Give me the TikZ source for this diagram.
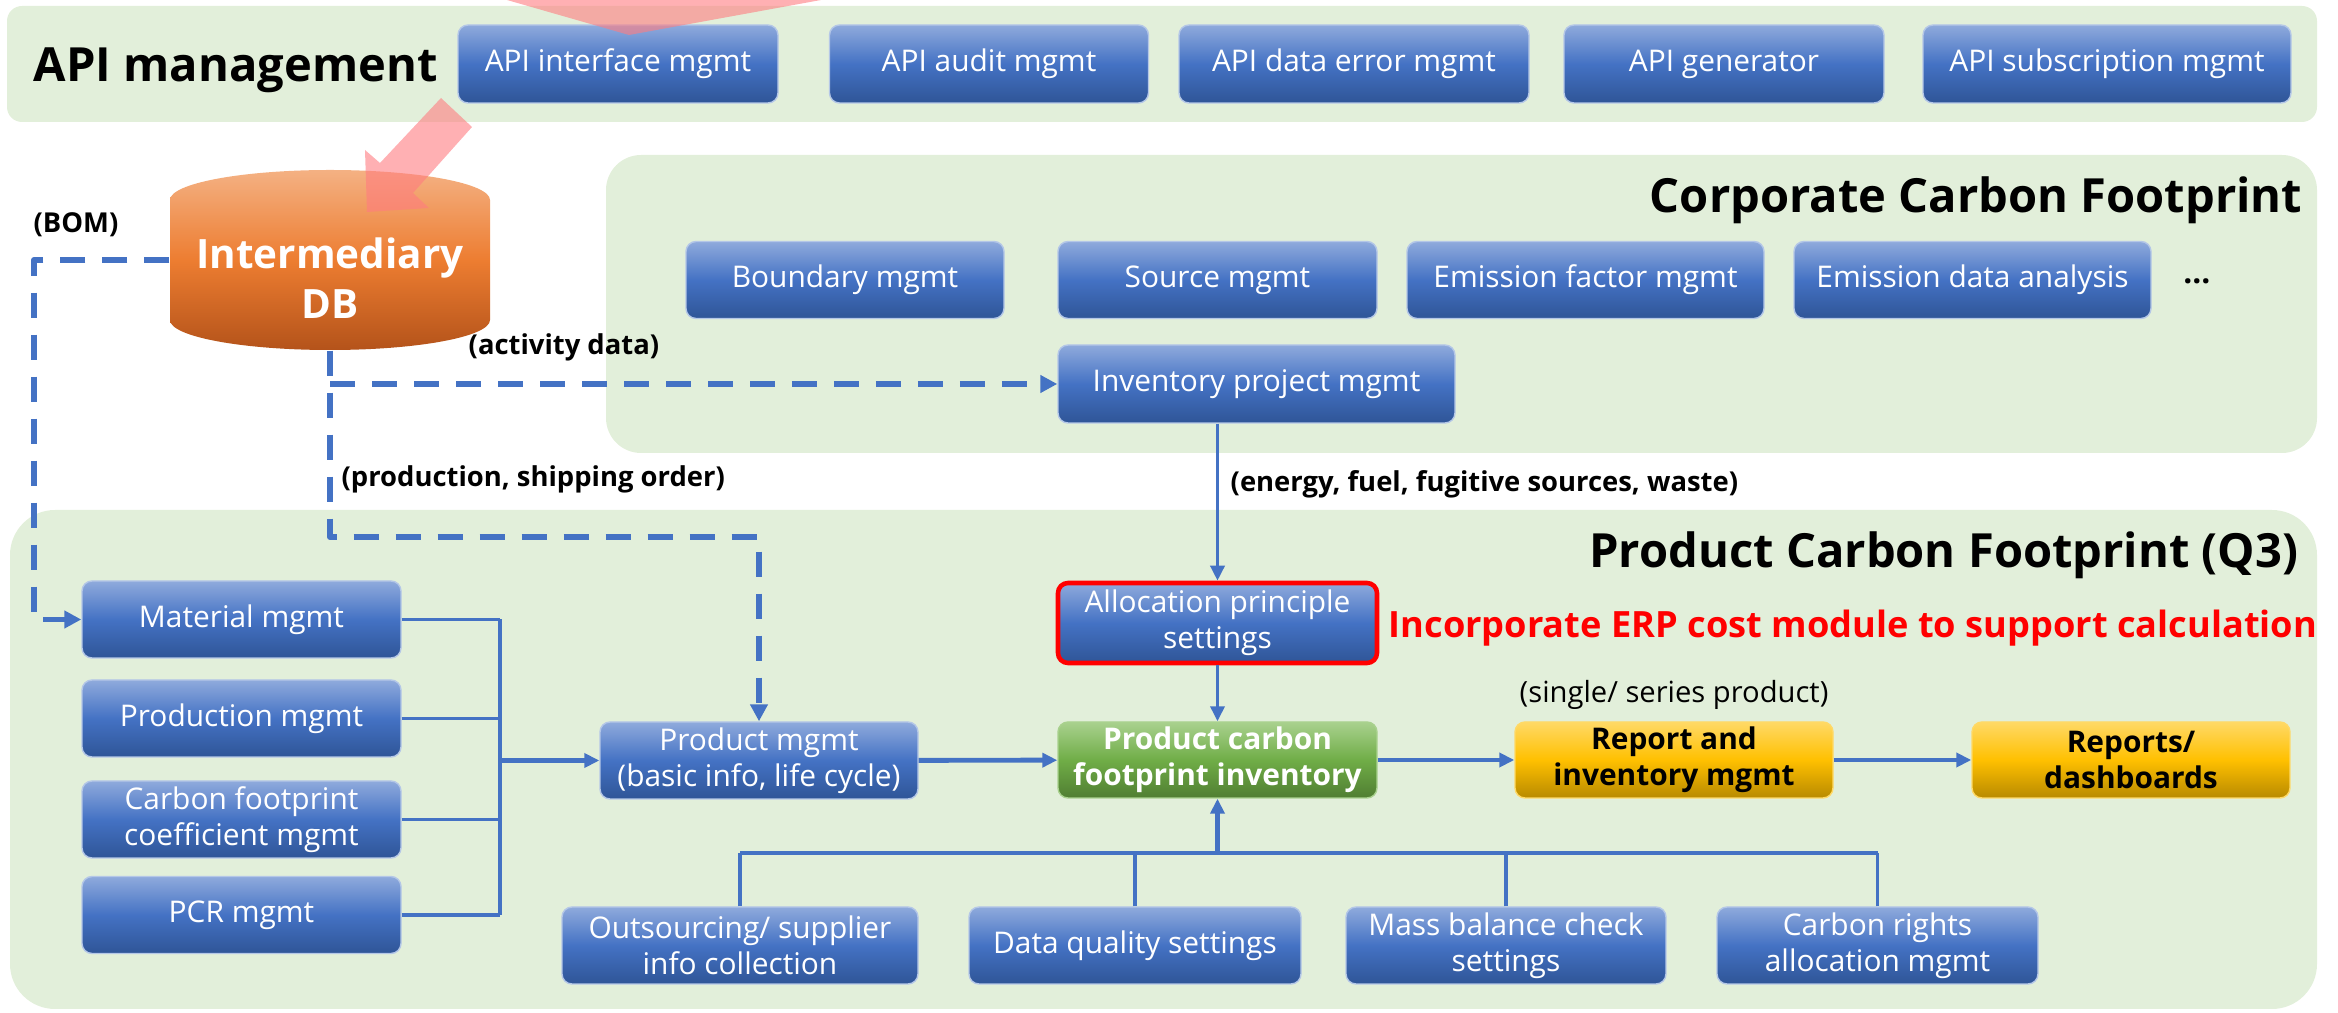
\documentclass[tikz,border=0pt]{standalone}
\usepackage{fontspec}
\setmainfont{Open Sans}
\usetikzlibrary{arrows.meta}

\definecolor{bandgreen}{HTML}{E2EFDA}
\definecolor{lineblue}{HTML}{4472C4}
\definecolor{boxtop}{HTML}{8FAADC}
\definecolor{boxmid}{HTML}{4472C4}
\definecolor{boxbot}{HTML}{2F5597}
\definecolor{boxedge}{HTML}{B4C7E7}
\definecolor{greentop}{HTML}{A9D18E}
\definecolor{greenmid}{HTML}{70AD47}
\definecolor{greenbot}{HTML}{507E32}
\definecolor{yellowtop}{HTML}{FFD966}
\definecolor{yellowmid}{HTML}{FFC000}
\definecolor{yellowbot}{HTML}{B88A00}
\definecolor{dbtop}{HTML}{F4B183}
\definecolor{dbmid}{HTML}{ED7D31}
\definecolor{dbbot}{HTML}{B4531A}
\definecolor{arrowpink}{HTML}{FF7C80}

\tikzset{
  band/.style={fill=bandgreen},
  blk/.style={rounded corners=1mm, top color=boxtop, bottom color=boxbot, middle color=boxmid,
    draw=boxedge, line width=0.4pt, text=white, align=center, inner sep=1pt,
    font=\fontsize{8.5}{10.2}\selectfont, minimum height=7.7mm},
  greenblk/.style={blk, top color=greentop, bottom color=greenbot, middle color=greenmid,
    draw=greentop, font=\fontsize{8.5}{10.2}\selectfont\bfseries},
  yellowblk/.style={blk, top color=yellowtop, bottom color=yellowbot, middle color=yellowmid,
    draw=yellowtop, text=black, font=\fontsize{8.5}{10.2}\selectfont\bfseries},
  title/.style={font=\fontsize{13.4}{16}\selectfont\bfseries, inner sep=0pt},
  lbl/.style={font=\fontsize{7.8}{9}\selectfont\bfseries, inner sep=0pt},
  conn/.style={draw=lineblue, line width=1pt},
  flow/.style={conn, line width=1.4pt, ->},
  dashconn/.style={draw=lineblue, line width=1.7pt, dash pattern=on 2.5mm off 1.7mm,
    -{Triangle[length=1.7mm, width=1.7mm]}},
  pinkarrow/.style={fill=arrowpink, fill opacity=0.6}
}

\begin{document}
\begin{tikzpicture}[x=0.1mm, y=-0.1mm, >={Triangle[length=1.5mm, width=1.4mm]}, line join=round]
    \useasboundingbox (0,0) rectangle (2338,1013);

    % --- BANDS ---
    \fill[band, rounded corners=1.5mm] (7,6) rectangle (2317,122);
    \fill[band, rounded corners=3.5mm] (606,155) rectangle (2317,453);
    \fill[band, rounded corners=4.5mm] (10,510) rectangle (2317,1009);

    % --- TITLES ---
    \node[title, anchor=base west] (apititle) at (33,82) {API management};
    \node[title, anchor=base east] (ccftitle) at (2303,213) {Corporate Carbon Footprint};
    \node[title, anchor=base east] (pcftitle) at (2299,568) {Product Carbon Footprint (Q3)};

    % --- API MANAGEMENT ROW ---
    \node[blk, minimum width=32.0mm, minimum height=7.8mm] (apiif)  at (618,64)  {API interface mgmt};
    \node[blk, minimum width=31.9mm, minimum height=7.8mm] (apiaud) at (989,64)  {API audit mgmt};
    \node[blk, minimum width=35.0mm, minimum height=7.8mm] (apierr) at (1354,64) {API data error mgmt};
    \node[blk, minimum width=32.0mm, minimum height=7.8mm] (apigen) at (1724,64) {API generator};
    \node[blk, minimum width=36.8mm, minimum height=7.8mm] (apisub) at (2107,64) {API subscription mgmt};

    % --- INTERMEDIARY DB ---
    % cylinder drawn as a shaded path, text node on top
    \shade[top color=dbtop, bottom color=dbbot, middle color=dbmid]
        (170,200) -- (170,320) arc[start angle=180, end angle=0, x radius=160, y radius=30]
        -- (490,200) arc[start angle=0, end angle=-180, x radius=160, y radius=30] -- cycle;
    \node[text=white, align=center, font=\fontsize{11.5}{14.2}\selectfont\bfseries,
        minimum width=32mm, minimum height=14.4mm, inner sep=0pt] (db) at (330,278) {Intermediary\\DB};

    % --- CORPORATE CARBON FOOTPRINT ---
    \node[blk, minimum width=31.8mm] (bound)  at (845,280)    {Boundary mgmt};
    \node[blk, minimum width=31.9mm] (source) at (1217.5,280) {Source mgmt};
    \node[blk, minimum width=35.7mm] (emfac)  at (1585.5,280) {Emission factor mgmt};
    \node[blk, minimum width=35.7mm] (emdata) at (1972.5,280) {Emission data analysis};
    \node[font=\fontsize{9}{10}\selectfont\bfseries, inner sep=0pt] (more) at (2197,281) {…};
    \node[blk, minimum width=39.7mm, minimum height=7.8mm] (inv) at (1256.5,384) {Inventory project mgmt};

    % --- PRODUCT CARBON FOOTPRINT ---
    \node[blk, minimum width=31.9mm] (mat)   at (241.5,619.5) {Material mgmt};
    \node[blk, minimum width=31.9mm] (prodm) at (241.5,718.5) {Production mgmt};
    \node[blk, minimum width=31.9mm] (cfc)   at (241.5,819.5) {Carbon footprint\\coefficient mgmt};
    \node[blk, minimum width=31.9mm] (pcr)   at (241.5,915)   {PCR mgmt};

    \node[blk, minimum width=31.8mm] (prod) at (759,760.5) {Product mgmt\\(basic info, life cycle)};
    \node[blk, minimum width=31.9mm, minimum height=8.0mm, draw=red, line width=1.3pt] (alloc) at (1217.5,623) {Allocation principle\\settings};
    \node[greenblk, minimum width=31.9mm, minimum height=7.6mm] (pcf) at (1217.5,760) {Product carbon\\footprint inventory};
    \node[yellowblk, minimum width=31.8mm, minimum height=7.6mm] (rep) at (1674,760) {Report and\\inventory mgmt};
    \node[yellowblk, minimum width=31.8mm, minimum height=7.6mm] (dash) at (2131,760) {Reports/\\dashboards};

    \node[blk, minimum width=35.6mm] (outs) at (740,945.5)    {Outsourcing/ supplier\\info collection};
    \node[blk, minimum width=33.2mm] (dq)   at (1135,945.5)   {Data quality settings};
    \node[blk, minimum width=32.0mm] (mb)   at (1506,945.5)   {Mass balance check\\settings};
    \node[blk, minimum width=32.1mm] (cr)   at (1877.5,945.5) {Carbon rights\\allocation mgmt};

    % --- LABELS ---
    \node[font=\fontsize{10.3}{12}\selectfont\bfseries, text=red, anchor=base west, inner sep=0pt] (erp) at (1388,638)
        {Incorporate ERP cost module to support calculation};
    \node[lbl, anchor=base west] (bomlbl)  at (33,233)   {(BOM)};
    \node[lbl, anchor=base west] (actlbl)  at (468,355)  {(activity data)};
    \node[lbl, anchor=base west] (ordlbl)  at (341,487)  {(production, shipping order)};
    \node[lbl, anchor=base west] (enelbl)  at (1230,492) {(energy, fuel, fugitive sources, waste)};
    \node[font=\fontsize{8.3}{10}\selectfont, anchor=base west, inner sep=0pt] (serlbl) at (1519,703) {(single/ series product)};

    % --- DASHED DATA FEEDS ---
    \coordinate (bom) at (34,260);
    \coordinate (turn) at (330,537);
    \draw[dashconn] (db.west |- bom) -- (bom) |- (mat.west);
    \draw[dashconn] (db.south) -- (turn) -| (prod.north);
    \draw[dashconn] (db.south |- inv.west) -- (inv.west);

    % --- SOLID CONNECTORS ---
    \coordinate (bus) at (500,0);
    \foreach \b in {mat, prodm, cfc, pcr}
        \draw[conn] (\b.east) -- (\b.east -| bus);
    \draw[conn] (mat.east -| bus) -- (pcr.east -| bus);
    \draw[flow] (bus |- prod.west) -- (prod.west);

    \draw[conn, ->] (inv.south -| alloc) -- (alloc.north);
    \draw[conn, ->] (alloc) -- (pcf);
    \draw[flow] (prod) -- (pcf);
    \draw[flow] (pcf) -- (rep);
    \draw[flow] (rep) -- (dash);

    \coordinate (botbus) at (0,853);
    \draw[conn, line width=1.3pt] (outs.north |- botbus) -- (cr.north |- botbus);
    \foreach \b in {outs, dq, mb, cr}
        \draw[conn] (\b.north) -- (\b.north |- botbus);
    \draw[conn, line width=1.2pt, ->] (pcf.south |- botbus) -- (pcf.south);

    % --- PINK ARROWS ---
    \fill[pinkarrow] (500,-2) -- (629,35) -- (832,-2) -- cycle;
    \fill[pinkarrow] (441,98) -- (380,163) -- (365,150) -- (367,212) -- (429,208) -- (413,193) -- (472,127) -- cycle;

\end{tikzpicture}
\end{document}
